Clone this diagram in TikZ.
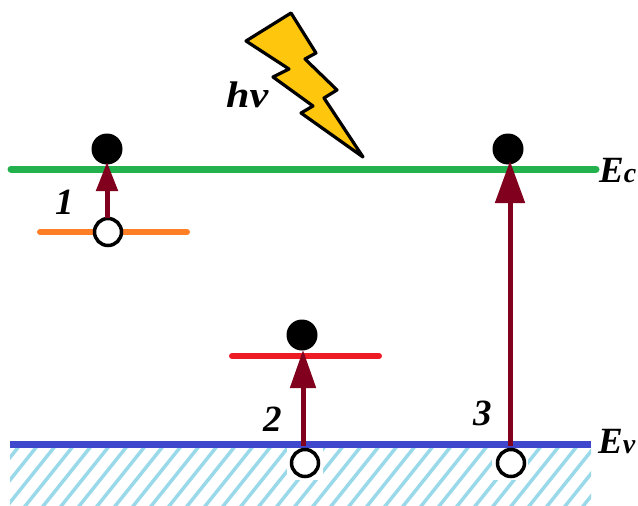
\documentclass[tikz,border=0pt]{standalone}
\usepackage{fontspec}
\setmainfont{Liberation Serif}
\usetikzlibrary{arrows.meta}
\definecolor{greenlvl}{HTML}{22B14C}
\definecolor{bluelvl}{HTML}{3F48CC}
\definecolor{orangelvl}{HTML}{FF7F27}
\definecolor{redlvl}{HTML}{ED1C24}
\definecolor{arrowred}{HTML}{80001E}
\definecolor{hatchblue}{HTML}{99D9EA}
\definecolor{boltyellow}{HTML}{FFC60E}
\newcommand{\lab}[1]{{\fontsize{37}{37}\selectfont\bfseries\itshape #1}}
\newcommand{\sublab}[1]{{\fontsize{28}{28}\selectfont\bfseries\itshape #1}}
\tikzset{
  level/.style={line width=#1, line cap=round},
  filled/.style={circle,fill=black,minimum size=31pt,inner sep=0pt},
  hollow/.style={circle,draw=black,fill=white,line width=3.5pt,minimum size=27pt,inner sep=0pt},
  jump/.style={draw=arrowred,line width=#1},
  txt/.style={inner sep=0pt,text=black,anchor=base west}
}
\begin{document}
\begin{tikzpicture}[x=1pt,y=-1pt]
\useasboundingbox (0,0) rectangle (638,506);
% hatching
\begin{scope}
\clip (10,447) rectangle (591,506);
\foreach \i in {0,...,36}
  \draw[hatchblue,line width=3.5pt] ({20+18*\i},445) -- ({20+18*\i-52},510);
\fill[white] (287,447) rectangle (323,480);
\fill[white] (492,447) rectangle (528,480);
\end{scope}
% levels
\coordinate (gl) at (11,169); \coordinate (gr) at (596,169);
\coordinate (bl) at (10,444); \coordinate (br) at (591,444);
\coordinate (ol) at (40,232); \coordinate (or) at (187,232);
\coordinate (rl) at (232,356); \coordinate (rr) at (379,356);
\draw[greenlvl,level=7pt] (gl) -- (gr);
\draw[bluelvl,line width=7pt] (bl) -- (br);
\draw[orangelvl,level=6pt] (ol) -- (or);
\draw[redlvl,level=6pt] (rl) -- (rr);
% carriers
\node[filled] (e1) at (107,149) {};
\node[filled] (e2) at (302,335) {};
\node[filled] (e3) at (508,149) {};
\node[hollow] (h1) at (108,232) {};
\node[hollow] (h2) at (305,463) {};
\node[hollow] (h3) at (511,463) {};
% transitions
\coordinate (s1) at (107,218); \coordinate (t1) at (107,162);
\coordinate (s2) at (303,446); \coordinate (t2) at (303,350);
\coordinate (s3) at (510,446); \coordinate (t3) at (510,161);
\draw[jump=5pt,-{Triangle[length=29pt,width=21pt]},arrowred] (s1) -- (t1);
\draw[jump=5pt,-{Triangle[length=38pt,width=25pt]},arrowred] (s2) -- (t2);
\draw[jump=5pt,-{Triangle[length=42pt,width=29pt]},arrowred] (s3) -- (t3);
% lightning
\draw[fill=boltyellow,draw=black,line width=3.2pt,line join=round]
  (246,41) -- (291,13) -- (316,53) -- (305,59) -- (337,90) -- (324,98)
  -- (363,157) -- (301,113) -- (313,106) -- (273,77) -- (289,69) -- cycle;
% labels
\node[txt,xscale=1.14] (hv) at (226,107.5) {\lab{hv}};
\node[txt] (n1) at (55,214) {\lab{1}};
\node[txt] (n2) at (263,431.5) {\lab{2}};
\node[txt] (n3) at (473,425.5) {\lab{3}};
\node[txt] (ec) at (599,182) {\lab{E}\sublab{c}};
\node[txt] (ev) at (598,453) {\lab{E}\sublab{v}};
\end{tikzpicture}
\end{document}
